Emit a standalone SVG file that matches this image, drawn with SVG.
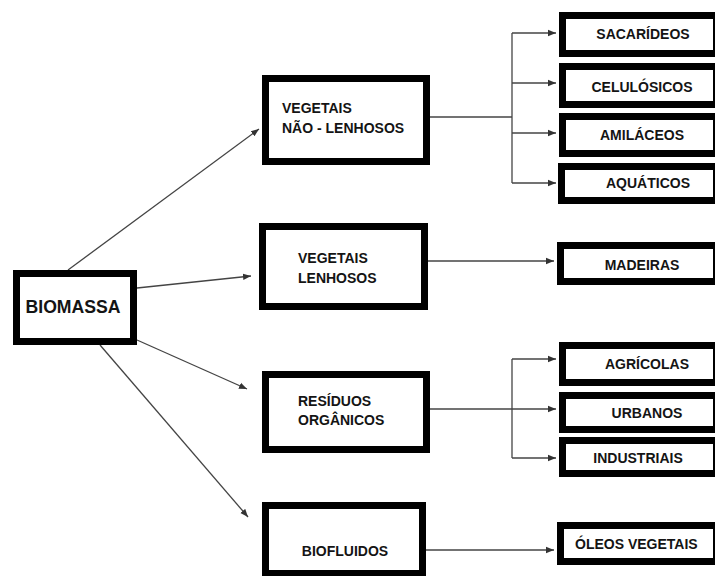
<svg xmlns="http://www.w3.org/2000/svg" width="715" height="576" viewBox="0 0 715 576">
<defs>
<marker id="ah" markerUnits="userSpaceOnUse" markerWidth="9" markerHeight="8" refX="8" refY="4" orient="auto">
<path d="M0,0.8 L8,4 L0,7.2 Z" fill="#333"/>
</marker>
<style>
.box{fill:#fff;stroke:#000;stroke-width:7}
.t{font-family:"Liberation Sans",Arial,sans-serif;font-weight:bold;font-size:14px;fill:#141414}
.c{text-anchor:middle}
.ln{fill:none;stroke:#444;stroke-width:1.3}
.ar{fill:none;stroke:#444;stroke-width:1.3;marker-end:url(#ah)}
</style>
</defs>
<rect width="715" height="576" fill="#fff"/>
<g id="connectors">
<line class="ar" x1="68" y1="270" x2="259" y2="129"/>
<line class="ar" x1="137" y1="288" x2="251" y2="276"/>
<line class="ar" x1="137" y1="340" x2="247" y2="389"/>
<line class="ar" x1="100" y1="345" x2="248" y2="517"/>
<line class="ln" x1="430" y1="117" x2="512" y2="117"/>
<line class="ln" x1="512" y1="33" x2="512" y2="183"/>
<line class="ar" x1="512" y1="33" x2="556" y2="33"/>
<line class="ar" x1="512" y1="83" x2="556" y2="83"/>
<line class="ar" x1="512" y1="133" x2="556" y2="133"/>
<line class="ar" x1="512" y1="183" x2="556" y2="183"/>
<line class="ar" x1="428" y1="261" x2="554" y2="261"/>
<line class="ar" x1="430" y1="409" x2="556" y2="409"/>
<line class="ln" x1="512" y1="359" x2="512" y2="458"/>
<line class="ar" x1="512" y1="359" x2="556" y2="359"/>
<line class="ar" x1="512" y1="458" x2="556" y2="458"/>
<line class="ar" x1="426" y1="550" x2="554" y2="550"/>
</g>
<g id="biomassa">
<rect class="box" x="16.5" y="273.5" width="117" height="68"/>
<text class="t c" x="73" y="313" style="font-size:18px" textLength="95" lengthAdjust="spacingAndGlyphs">BIOMASSA</text>
</g>
<g id="nao-lenhosos">
<rect class="box" x="265.5" y="78.5" width="161" height="83"/>
<text class="t" x="282" y="113">VEGETAIS</text>
<text class="t" x="282" y="133">NÃO - LENHOSOS</text>
</g>
<g id="lenhosos">
<rect class="box" x="262.5" y="226.5" width="162" height="80"/>
<text class="t" x="298" y="263">VEGETAIS</text>
<text class="t" x="298" y="283">LENHOSOS</text>
</g>
<g id="residuos">
<rect class="box" x="265.5" y="374.5" width="161" height="75"/>
<text class="t" x="298" y="406">RESÍDUOS</text>
<text class="t" x="298" y="425">ORGÂNICOS</text>
</g>
<g id="biofluidos">
<rect class="box" x="265.5" y="505.5" width="157" height="68"/>
<text class="t c" x="345" y="556">BIOFLUIDOS</text>
</g>
<g id="sacarideos">
<rect class="box" x="562.5" y="15.5" width="154" height="38"/>
<text class="t c" x="643" y="39">SACARÍDEOS</text>
</g>
<g id="celulosicos">
<rect class="box" x="562.5" y="66.5" width="154" height="38"/>
<text class="t c" x="642" y="92">CELULÓSICOS</text>
</g>
<g id="amilaceos">
<rect class="box" x="562.5" y="116.5" width="154" height="37"/>
<text class="t c" x="642" y="140">AMILÁCEOS</text>
</g>
<g id="aquaticos">
<rect class="box" x="561.5" y="166.5" width="155" height="34"/>
<text class="t c" x="648" y="188">AQUÁTICOS</text>
</g>
<g id="madeiras">
<rect class="box" x="560.5" y="245.5" width="156" height="36"/>
<text class="t c" x="642" y="270">MADEIRAS</text>
</g>
<g id="agricolas">
<rect class="box" x="562.5" y="345.5" width="154" height="37"/>
<text class="t c" x="647" y="369">AGRÍCOLAS</text>
</g>
<g id="urbanos">
<rect class="box" x="562.5" y="395.5" width="154" height="34"/>
<text class="t c" x="647" y="418">URBANOS</text>
</g>
<g id="industriais">
<rect class="box" x="562.5" y="440.5" width="154" height="33"/>
<text class="t c" x="638" y="463">INDUSTRIAIS</text>
</g>
<g id="oleos">
<rect class="box" x="560.5" y="525.5" width="156" height="36"/>
<text class="t" x="575" y="549">ÓLEOS VEGETAIS</text>
</g>
</svg>
